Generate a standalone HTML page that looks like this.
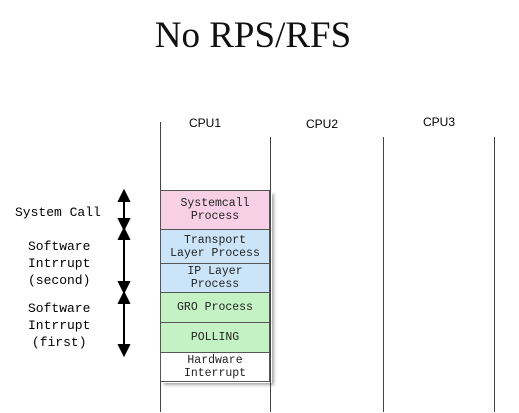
<!DOCTYPE html>
<html><head><style>
body{margin:0;width:519px;height:413px;background:#fff;overflow:hidden;position:relative;font-family:"Liberation Mono",monospace}
.t{position:absolute;white-space:nowrap}
.l{position:absolute;width:1px;background:#444}
.b{position:absolute;left:160px;width:110px;border:1px solid #555;box-sizing:border-box;font-size:11.5px;text-align:center;line-height:13px;display:flex;align-items:center;justify-content:center;color:#222}
</style></head><body>
<div class="t" style="left:0;width:506px;text-align:center;top:14px;font:37px 'Liberation Serif',serif;color:#111">No RPS/RFS</div>
<div class="t" style="left:189px;top:116px;font:12px 'Liberation Sans',sans-serif">CPU1</div>
<div class="t" style="left:306px;top:117px;font:12px 'Liberation Sans',sans-serif">CPU2</div>
<div class="t" style="left:423px;top:115px;font:12px 'Liberation Sans',sans-serif">CPU3</div>
<div class="l" style="left:160px;top:122px;height:290px"></div>
<div class="l" style="left:270px;top:137px;height:275px"></div>
<div class="l" style="left:383px;top:137px;height:275px"></div>
<div class="l" style="left:494px;top:137px;height:275px"></div>
<div style="position:absolute;left:162px;top:192px;width:110px;height:191px;box-shadow:2px 2px 3px rgba(0,0,0,.35)"></div>
<div class="b" style="top:190px;height:40px;background:#f8d0e6">Systemcall<br>Process</div>
<div class="b" style="top:229px;height:35px;background:#cce4f8">Transport<br>Layer Process</div>
<div class="b" style="top:263px;height:30px;background:#cce4f8">IP Layer<br>Process</div>
<div class="b" style="top:292px;height:31px;background:#c4f2c4">GRO Process</div>
<div class="b" style="top:322px;height:31px;background:#c4f2c4">POLLING</div>
<div class="b" style="top:352px;height:30px;background:#fff">Hardware<br>Interrupt</div>
<div class="t" style="left:15px;top:205px;font-size:13px">System Call</div>
<div class="t" style="left:28px;top:238px;font-size:13px;line-height:17px;text-align:center">Software<br>Intrrupt<br>(second)</div>
<div class="t" style="left:28px;top:300px;font-size:13px;line-height:17px;text-align:center">Software<br>Intrrupt<br>(first)</div>
<svg style="position:absolute;left:0;top:0" width="519" height="413">
<g stroke="#000" stroke-width="2" fill="#000">
<line x1="124" y1="196" x2="124" y2="226"/><polygon points="124,191 119,201 129,201"/><polygon points="124,229 119,219 129,219"/>
<line x1="124" y1="234" x2="124" y2="288"/><polygon points="124,229 119,239 129,239"/><polygon points="124,292 119,282 129,282"/>
<line x1="124" y1="298" x2="124" y2="350"/><polygon points="124,293 119,303 129,303"/><polygon points="124,355 119,345 129,345"/>
</g></svg>
</body></html>
